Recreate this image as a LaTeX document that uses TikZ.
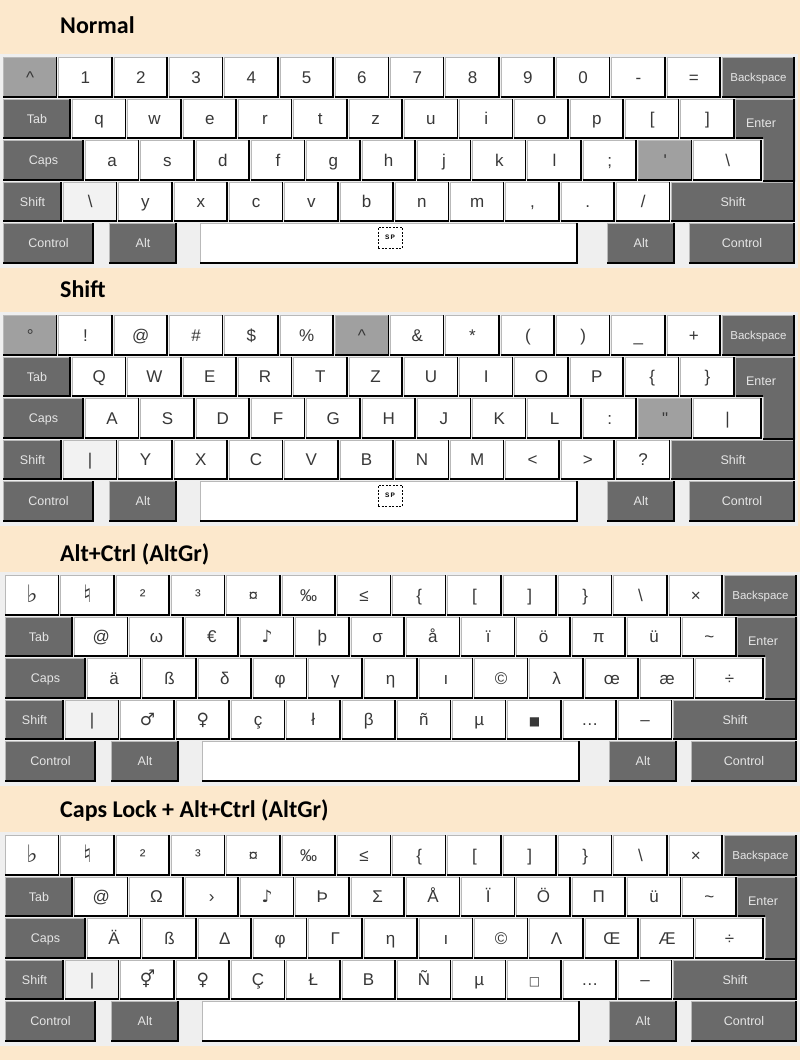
\documentclass[tikz,border=0pt]{standalone}
\usepackage{fontspec}
\setmainfont{Liberation Sans}
\newfontfamily\titlefont{Carlito}
\newfontfamily\dv{DejaVu Sans}
\definecolor{peach}{HTML}{FCE8CC}
\definecolor{panelbg}{HTML}{EFEFEF}
\definecolor{keydark}{HTML}{6A6A6A}
\definecolor{keygray}{HTML}{A0A0A0}
\definecolor{keylight}{HTML}{F2F2F2}
\definecolor{keytxt}{HTML}{383838}
\definecolor{modtxt}{HTML}{E6E6E6}
\newcommand\bigsym[1]{{\dv\fontsize{24}{24}\selectfont\raisebox{-1pt}{#1}}}
\tikzset{
  keybase/.style={inner sep=0pt, outer sep=0pt, anchor=north west, minimum height=40.5pt,
    text height=12pt, text depth=0pt,
    font=\fontsize{17}{17}\selectfont, text=keytxt},
  km/.style={keybase, fill=keydark, text=modtxt, text height=9pt, font=\fontsize{12.5}{12.5}\selectfont},
  modlabel/.style={inner sep=0pt, text=modtxt, text height=9pt, text depth=0pt, font=\fontsize{12.5}{12.5}\selectfont},
  shadowline/.style={black, line width=1.6pt},
  lightline/.style={gray!55, line width=0.8pt},
  paneltitle/.style={anchor=base west, inner sep=0pt, font=\titlefont\bfseries\fontsize{24}{24}\selectfont},
  spbox/.style={draw, line width=0.6pt, dash pattern=on 2pt off 1.5pt, minimum width=24pt,
    minimum height=21pt, inner sep=0pt, font=\fontsize{6.5}{6.5}\selectfont\bfseries},
}
% #1 options, #2 name, #3 x, #4 width, #5 label ; row top in \ry
\newcommand\key[5]{%
  \node[keybase, #1, minimum width=#4pt] (#2) at ({#3},\ry) {#5};
  \draw[lightline] ([xshift=.4pt]#2.south west) -- ([xshift=.4pt,yshift=-.4pt]#2.north west) -- ([yshift=-.4pt]#2.north east);
  \draw[shadowline] ([yshift=.8pt]#2.south west) -- ([xshift=-.8pt,yshift=.8pt]#2.south east) -- ([xshift=-.8pt]#2.north east);
}
\newcommand\common[1]{%
  \fill[panelbg] (-2,54) rectangle (798,268);
  \def\ry{57}\key{km, font=\fontsize{11.5}{11.5}\selectfont}{#1bs}{721.9}{73.1}{Backspace}
  \def\ry{98.5}\key{km}{#1tab}{3}{68}{Tab}
  \def\ry{140}\key{km}{#1caps}{3}{81}{Caps}
  \def\ry{181.5}\key{km}{#1lsh}{3}{59}{Shift}\key{km}{#1rsh}{671.3}{123.7}{Shift}
  \def\ry{223}\key{km}{#1lctl}{3}{91}{Control}\key{km}{#1lalt}{109}{68}{Alt}
  \key{fill=white}{#1space}{200}{378}{}
  \key{km}{#1ralt}{607}{68}{Alt}\key{km}{#1rctl}{689}{106}{Control}
  \fill[keydark] (735.6,98.5) -- (795,98.5) -- (795,181.5) -- (763,181.5) -- (763,139) -- (735.6,139) -- cycle;
  \draw[lightline] (735.6,139) -- (735.6,98.9) -- (795,98.9);
  \draw[lightline] (763.4,181.5) -- (763.4,139);
  \draw[shadowline] (735.6,138.2) -- (763,138.2);
  \draw[shadowline] (763,180.7) -- (794.2,180.7) -- (794.2,98.5);
  \node[modlabel] (#1enter) at (761,123) {Enter};
}
\begin{document}
\begin{tikzpicture}[x=1pt,y=-1pt]
\useasboundingbox (0,0) rectangle (800,1060);
\fill[peach] (0,0) rectangle (800,1060);

\node[paneltitle] (title1) at (60,33) {Normal};
\node[paneltitle] (title2) at (60,297) {Shift};
\node[paneltitle] (title3) at (60,561) {Alt+Ctrl (AltGr)};
\node[paneltitle] (title4) at (60,817) {Caps Lock + Alt+Ctrl (AltGr)};

% ---------------- Normal ----------------
\begin{scope}
\common{p1}
\def\ry{57}
\foreach \s/\t [count=\i from 0] in {keygray/{\textasciicircum},white/1,white/2,white/3,white/4,white/5,white/6,white/7,white/8,white/9,white/0,white/-,white/=}
  {\key{fill=\s}{p1a\i}{3+55.3*\i}{54.3}{\t}}
\def\ry{98.5}
\foreach \t [count=\i from 0] in {q,w,e,r,t,z,u,i,o,p,{[},{]}}
  {\key{fill=white}{p1b\i}{72+55.3*\i}{54.3}{\t}}
\def\ry{140}
\foreach \s/\t [count=\i from 0] in {white/a,white/s,white/d,white/f,white/g,white/h,white/j,white/k,white/l,white/;,keygray/{\textquotesingle}}
  {\key{fill=\s}{p1c\i}{85+55.3*\i}{54.3}{\t}}
\key{fill=white}{p1c11}{693.3}{68.7}{\textbackslash}
\def\ry{181.5}
\foreach \s/\t [count=\i from 0] in {keylight/{\textbackslash},white/y,white/x,white/c,white/v,white/b,white/n,white/m,white/{,},white/.,white/{/}}
  {\key{fill=\s}{p1d\i}{63+55.3*\i}{54.3}{\t}}
\node[spbox] (p1sp) at (390,237.5) {S\,P};
\end{scope}

% ---------------- Shift ----------------
\begin{scope}[shift={(0,258)}]
\common{p2}
\def\ry{57}
\foreach \s/\t [count=\i from 0] in {keygray/°,white/!,white/@,white/{\#},white/{\$},white/{\%},keygray/{\textasciicircum},white/{\&},white/*,white/{(},white/{)},white/{\_},white/+}
  {\key{fill=\s}{p2a\i}{3+55.3*\i}{54.3}{\t}}
\def\ry{98.5}
\foreach \t [count=\i from 0] in {Q,W,E,R,T,Z,U,I,O,P,{\{},{\}}}
  {\key{fill=white}{p2b\i}{72+55.3*\i}{54.3}{\t}}
\def\ry{140}
\foreach \s/\t [count=\i from 0] in {white/A,white/S,white/D,white/F,white/G,white/H,white/J,white/K,white/L,white/:,keygray/{\textquotedbl}}
  {\key{fill=\s}{p2c\i}{85+55.3*\i}{54.3}{\t}}
\key{fill=white}{p2c11}{693.3}{68.7}{|}
\def\ry{181.5}
\foreach \s/\t [count=\i from 0] in {keylight/|,white/Y,white/X,white/C,white/V,white/B,white/N,white/M,white/<,white/>,white/?}
  {\key{fill=\s}{p2d\i}{63+55.3*\i}{54.3}{\t}}
\node[spbox] (p2sp) at (390,237.5) {S\,P};
\end{scope}

% ---------------- Alt+Ctrl (AltGr) ----------------
\begin{scope}[shift={(2,518)}]
\common{p3}
\def\ry{57}
\foreach \t [count=\i from 0] in {{\bigsym{♭}},{\bigsym{♮}},²,³,¤,‰,≤,{\{},{[},{]},{\}},{\textbackslash},×}
  {\key{fill=white}{p3a\i}{3+55.3*\i}{54.3}{\t}}
\def\ry{98.5}
\foreach \t [count=\i from 0] in {@,ω,€,{{\dv ♪}},þ,σ,å,ï,ö,π,ü,{\textasciitilde}}
  {\key{fill=white}{p3b\i}{72+55.3*\i}{54.3}{\t}}
\def\ry{140}
\foreach \t [count=\i from 0] in {ä,ß,δ,φ,γ,η,ı,©,λ,œ,æ}
  {\key{fill=white}{p3c\i}{85+55.3*\i}{54.3}{\t}}
\key{fill=white}{p3c11}{693.3}{68.7}{÷}
\def\ry{181.5}
\foreach \s/\t [count=\i from 0] in {keylight/|,white/{{\dv ♂}},white/{{\dv ♀}},white/ç,white/ł,white/β,white/ñ,white/µ,white/{{\dv\fontsize{12}{12}\selectfont ■}},white/…,white/–}
  {\key{fill=\s}{p3d\i}{63+55.3*\i}{54.3}{\t}}
\end{scope}

% ---------------- Caps Lock + Alt+Ctrl (AltGr) ----------------
\begin{scope}[shift={(2,778)}]
\common{p4}
\def\ry{57}
\foreach \t [count=\i from 0] in {{\bigsym{♭}},{\bigsym{♮}},²,³,¤,‰,≤,{\{},{[},{]},{\}},{\textbackslash},×}
  {\key{fill=white}{p4a\i}{3+55.3*\i}{54.3}{\t}}
\def\ry{98.5}
\foreach \t [count=\i from 0] in {@,Ω,›,{{\dv ♪}},Þ,Σ,Å,Ï,Ö,Π,ü,{\textasciitilde}}
  {\key{fill=white}{p4b\i}{72+55.3*\i}{54.3}{\t}}
\def\ry{140}
\foreach \t [count=\i from 0] in {Ä,ß,Δ,φ,Γ,η,ı,©,Λ,Œ,Æ}
  {\key{fill=white}{p4c\i}{85+55.3*\i}{54.3}{\t}}
\key{fill=white}{p4c11}{693.3}{68.7}{÷}
\def\ry{181.5}
\foreach \s/\t [count=\i from 0] in {keylight/|,white/{{\dv ⚥}},white/{{\dv ♀}},white/Ç,white/Ł,white/Β,white/Ñ,white/µ,white/{{\dv\fontsize{12}{12}\selectfont □}},white/…,white/–}
  {\key{fill=\s}{p4d\i}{63+55.3*\i}{54.3}{\t}}
\end{scope}
\end{tikzpicture}
\end{document}
